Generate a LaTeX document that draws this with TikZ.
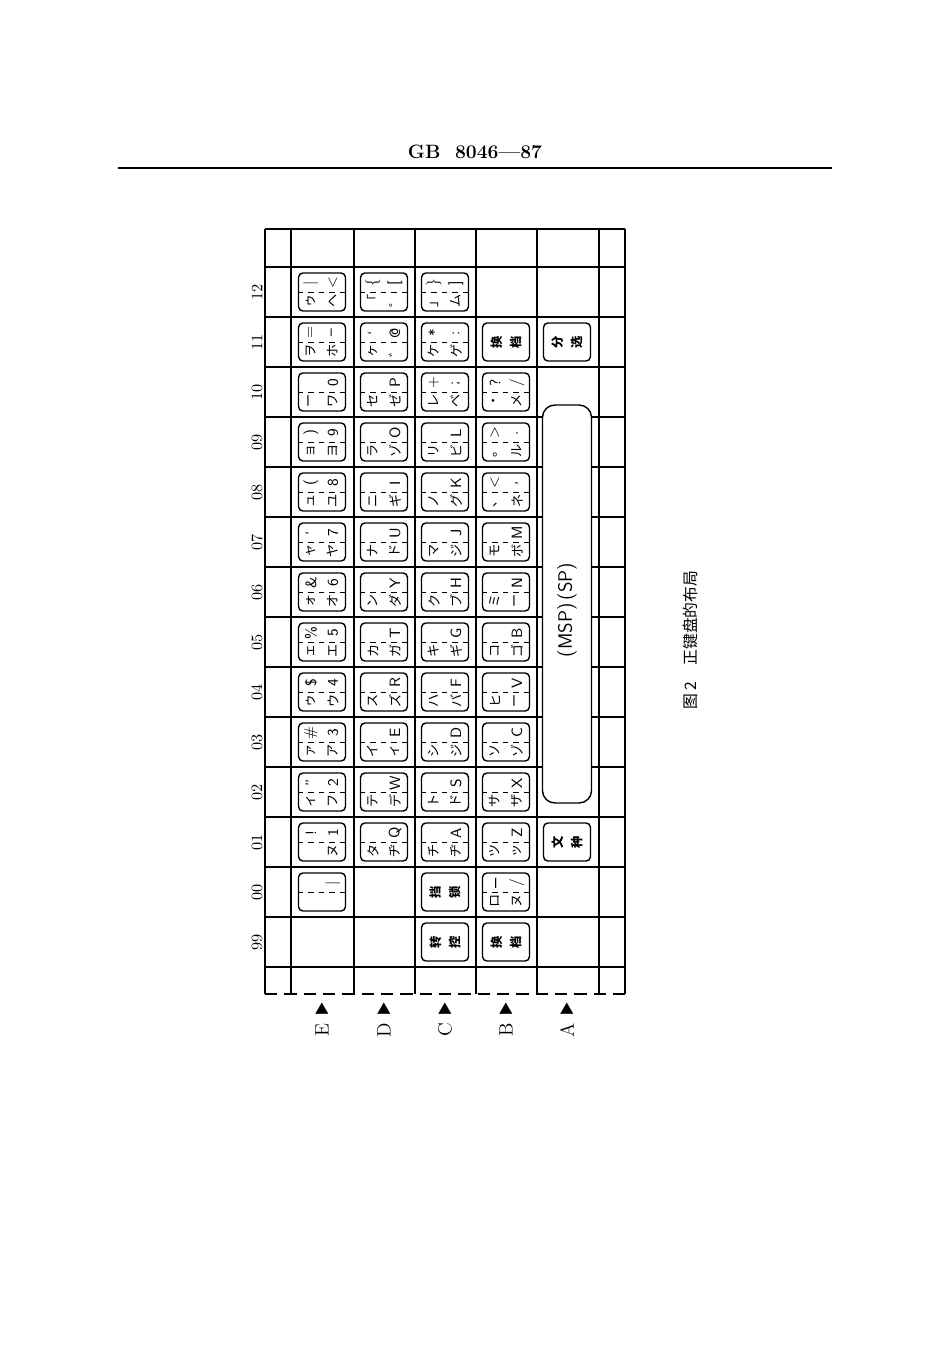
\documentclass[tikz,border=0pt]{standalone}
\usepackage{fontspec}
\newfontfamily\cjk{Noto Sans CJK JP}
\begin{document}
\begin{tikzpicture}[x=0.02cm,y=-0.02cm,
  grid/.style={line width=0.7pt},
  keybox/.style={draw,rounded corners=2.5pt,line width=0.8pt,minimum width=0.94cm,minimum height=0.76cm,inner sep=0pt},
  kc/.style={rotate=90,font=\sffamily\fontsize{8.5}{9}\selectfont,inner sep=0pt},
  kj/.style={rotate=90,font=\cjk\fontsize{7.5}{8}\selectfont,inner sep=0pt},
  lab/.style={rotate=90,font=\fontsize{9}{10}\selectfont,inner sep=0pt}]
\useasboundingbox (0,0) rectangle (950,1345);
% header
\node[font=\bfseries\fontsize{11}{12}\selectfont] (hdr) at (475,152) {GB\ \ 8046—87};
\coordinate (hl) at (118,168); \coordinate (hr) at (832,168);
\draw[line width=1pt] (hl) -- (hr);
% grid
\foreach \x in {265,291,354,415,476,537,599,625} \draw[grid] (\x,229) -- (\x,994);
\draw[grid] (265,229) -- (625,229);
\foreach \k in {0,...,14} \draw[grid] (265,267+50*\k) -- (625,267+50*\k);
\draw[grid,dash pattern=on 7pt off 4pt] (265,994) -- (625,994);
% row labels
\foreach \l [count=\i from 0] in {12,11,10,09,08,07,06,05,04,03,02,01,00,99}
  \node[lab] (r\l) at (257,292+50*\i) {\l};
% column letters
\foreach \c/\x in {E/322,D/384,C/445,B/506,A/567}{
  \node[font=\cjk\fontsize{8}{8}\selectfont,inner sep=0pt] (t\c) at (\x,1009) {▲};
  \node[lab,font=\fontsize{11}{12}\selectfont] (l\c) at (\x,1030) {\c};
}
\newcommand\keycap[7]{%
  \node[keybox] (#1) at (#2,#3) {};
  \draw[dashed,line width=0.5pt] (#1.west) -- (#1.east);
  \path (#2,#3) ++(-11,-9) coordinate (#1pa);
  \path (#2,#3) ++(11,-9) coordinate (#1pb);
  \path (#2,#3) ++(-11,9) coordinate (#1pc);
  \path (#2,#3) ++(11,9) coordinate (#1pd);
  \node[kc] (#1a) at (#1pa) {#4};
  \node[kc] (#1b) at (#1pb) {#5};
  \node[kj] (#1c) at (#1pc) {#6};
  \node[kj] (#1d) at (#1pd) {#7};}
\newcommand\cnkey[4]{%
  \node[keybox] (#1) at (#2,#3) {};
  \node[kj,font=\cjk\bfseries\fontsize{7}{11}\selectfont,align=center] (#1t) at (#2,#3) {#4};}
% E row
\keycap{E12}{322}{292}{|}{<}{ゥ}{ヘ}
\keycap{E11}{322}{342}{=}{--}{ヲ}{ホ}
\keycap{E10}{322}{392}{}{0}{ー}{ワ}
\keycap{E09}{322}{442}{)}{9}{ョ}{ヨ}
\keycap{E08}{322}{492}{(}{8}{ュ}{ユ}
\keycap{E07}{322}{542}{'}{7}{ャ}{ヤ}
\keycap{E06}{322}{592}{\&}{6}{ォ}{オ}
\keycap{E05}{322}{642}{\%}{5}{ェ}{エ}
\keycap{E04}{322}{692}{\$}{4}{ゥ}{ウ}
\keycap{E03}{322}{742}{\#}{3}{ァ}{ア}
\keycap{E02}{322}{792}{"}{2}{ィ}{フ}
\keycap{E01}{322}{842}{!}{1}{}{ヌ}
\keycap{E00}{322}{892}{}{|}{}{}
% D row
\keycap{D12}{384}{292}{\{}{[}{「}{゜}
\keycap{D11}{384}{342}{`}{@}{ヶ}{゛}
\keycap{D10}{384}{392}{}{P}{セ}{ゼ}
\keycap{D09}{384}{442}{}{O}{ラ}{ゾ}
\keycap{D08}{384}{492}{}{I}{ニ}{ギ}
\keycap{D07}{384}{542}{}{U}{ナ}{ド}
\keycap{D06}{384}{592}{}{Y}{ン}{ダ}
\keycap{D05}{384}{642}{}{T}{カ}{ガ}
\keycap{D04}{384}{692}{}{R}{ス}{ズ}
\keycap{D03}{384}{742}{}{E}{イ}{ィ}
\keycap{D02}{384}{792}{}{W}{テ}{デ}
\keycap{D01}{384}{842}{}{Q}{タ}{ヂ}
% C row
\keycap{C12}{445}{292}{\}}{]}{」}{ム}
\keycap{C11}{445}{342}{*}{:}{ケ}{ゲ}
\keycap{C10}{445}{392}{+}{;}{レ}{ベ}
\keycap{C09}{445}{442}{}{L}{リ}{ビ}
\keycap{C08}{445}{492}{}{K}{ノ}{グ}
\keycap{C07}{445}{542}{}{J}{マ}{ジ}
\keycap{C06}{445}{592}{}{H}{ク}{ブ}
\keycap{C05}{445}{642}{}{G}{キ}{ギ}
\keycap{C04}{445}{692}{}{F}{ハ}{バ}
\keycap{C03}{445}{742}{}{D}{シ}{ジ}
\keycap{C02}{445}{792}{}{S}{ト}{ド}
\keycap{C01}{445}{842}{}{A}{チ}{ヂ}
\cnkey{C00}{445}{892}{挡\\锁}
\cnkey{C99}{445}{942}{转\\控}
% B row
\cnkey{B11}{506}{342}{换\\档}
\keycap{B10}{506}{392}{?}{/}{・}{メ}
\keycap{B09}{506}{442}{>}{.}{。}{ル}
\keycap{B08}{506}{492}{<}{,}{、}{ネ}
\keycap{B07}{506}{542}{}{M}{モ}{ボ}
\keycap{B06}{506}{592}{}{N}{ミ}{ー}
\keycap{B05}{506}{642}{}{B}{コ}{ゴ}
\keycap{B04}{506}{692}{}{V}{ヒ}{ー}
\keycap{B03}{506}{742}{}{C}{ソ}{ゾ}
\keycap{B02}{506}{792}{}{X}{サ}{ザ}
\keycap{B01}{506}{842}{}{Z}{ツ}{ッ}
\keycap{B00}{506}{892}{\_}{/}{ロ}{ヌ}
\cnkey{B99}{506}{942}{换\\档}
% A row
\cnkey{A11}{567}{342}{分\\选}
\cnkey{A01}{567}{842}{文\\种}
\node[draw,fill=white,rounded corners=7pt,line width=0.8pt,minimum width=0.98cm,minimum height=7.96cm,inner sep=0pt] (sp) at (567,604) {};
\node[lab,font=\sffamily\fontsize{11}{12}\selectfont] (spt) at (567,610) {(MSP)\,(SP)};
% caption
\node[lab,font=\cjk\fontsize{9}{10}\selectfont] (cap) at (690,640) {图 2\quad 正键盘的布局};
\end{tikzpicture}
\end{document}
